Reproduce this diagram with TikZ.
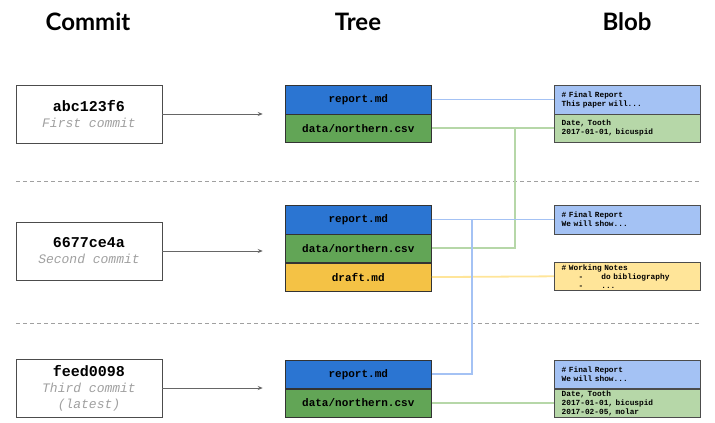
\documentclass[tikz,border=0pt]{standalone}
\usepackage{fontspec}
\setmainfont{Lato}
\setmonofont{Liberation Mono}
\usetikzlibrary{positioning,arrows.meta}
\definecolor{treeblue}{HTML}{2B75D2}
\definecolor{treegreen}{HTML}{62A556}
\definecolor{treeyellow}{HTML}{F4C245}
\definecolor{blobblue}{HTML}{A4C2F4}
\definecolor{blobgreen}{HTML}{B6D7A8}
\definecolor{blobyellow}{HTML}{FFE599}
\definecolor{subgray}{HTML}{A0A0A0}
\begin{document}
\begin{tikzpicture}[x=1pt, y=-1pt, >={Stealth[length=5pt, width=4pt]},
    header/.style={font=\bfseries\fontsize{24}{28}\selectfont, anchor=base},
    commit/.style={draw=black!70, fill=white, minimum width=146pt, minimum height=58pt, inner sep=0pt, align=center, font=\ttfamily\fontsize{13}{16}\selectfont},
    entry/.style={draw=black!80, minimum width=146.7pt, minimum height=28.4pt, inner sep=0pt, font=\ttfamily\bfseries\fontsize{11}{13}\selectfont},
    blob/.style={draw=black!70, text width=131.3pt, inner xsep=7.7pt, inner ysep=0pt, minimum height=28.4pt, align=left, font=\ttfamily\bfseries\fontsize{7.8}{9}\selectfont},
    link/.style={line width=1.8pt},
    sep/.style={subgray, line width=0.8pt, dash pattern=on 4pt off 3pt}]
  \useasboundingbox (0,0) rectangle (715,423);

  % column headers
  \node[header] (hc) at (88,30) {Commit};
  \node[header] (ht) at (358,30) {Tree};
  \node[header] (hb) at (627,30) {Blob};

  % section separators
  \draw[sep] (16,181.7) -- (700,181.7);
  \draw[sep] (16,323.3) -- (700,323.3);

  % commits
  \node[commit] (c1) at (89,114) {{\bfseries\fontsize{15}{16}\selectfont abc123f6}\\{\color{subgray}\itshape First commit}};
  \node[commit] (c2) at (89,251) {{\bfseries\fontsize{15}{16}\selectfont 6677ce4a}\\{\color{subgray}\itshape Second commit}};
  \node[commit] (c3) at (89,388) {{\bfseries\fontsize{15}{16}\selectfont feed0098}\\{\color{subgray}\itshape Third commit}\\{\color{subgray}\itshape (latest)}};

  % trees
  \node[entry, fill=treeblue] (t1r) at (358.3,99.5) {report.md};
  \node[entry, fill=treegreen, below=0pt of t1r] (t1d) {data/northern.csv};
  \node[entry, fill=treeblue] (t2r) at (358.3,219.5) {report.md};
  \node[entry, fill=treegreen, below=0pt of t2r] (t2d) {data/northern.csv};
  \node[entry, fill=treeyellow, below=0pt of t2d] (t2f) {draft.md};
  \node[entry, fill=treeblue] (t3r) at (358.3,374.2) {report.md};
  \node[entry, fill=treegreen, below=0pt of t3r] (t3d) {data/northern.csv};

  % blobs
  \node[blob, fill=blobblue] (b1r) at (627.3,99.5) {\# Final Report\\This paper will...};
  \node[blob, fill=blobgreen, below=0pt of b1r] (b1d) {Date, Tooth\\2017-01-01, bicuspid};
  \node[blob, fill=blobblue] (b2r) at (627.3,219.5) {\# Final Report\\We will show...};
  \node[blob, fill=blobyellow] (b2f) at (627.3,276.3) {\# Working Notes\\\hspace*{17pt}-\hspace*{18pt}do bibliography\\\hspace*{17pt}-\hspace*{18pt}...};
  \node[blob, fill=blobblue] (b3r) at (627.3,374.2) {\# Final Report\\We will show...};
  \node[blob, fill=blobgreen, below=0pt of b3r] (b3d) {Date, Tooth\\2017-01-01, bicuspid\\2017-02-05, molar};

  % commit -> tree
  \draw[->, black!60, line width=0.8pt, shorten >=22pt] (c1.east) -- (c1.east -| t1r.west);
  \draw[->, black!60, line width=0.8pt, shorten >=22pt] (c2.east) -- (c2.east -| t2r.west);
  \draw[->, black!60, line width=0.8pt, shorten >=22pt] (c3.east) -- (c3.east -| t3r.west);

  % tree -> blob
  \coordinate (g1) at ([xshift=83pt]t1d.east);
  \coordinate (g2) at ([xshift=40pt]t2r.east);
  \draw[link, blobgreen] (t1d.east) -- (b1d.west);
  \draw[link, blobgreen] (t2d.east) -| (g1);
  \draw[link, blobgreen] (t3d.east) -- (b3d.west);
  \draw[link, blobyellow] (t2f.east) -- (b2f.west);
  \draw[link, blobblue] (t1r.east) -- (b1r.west);
  \draw[link, blobblue] (t2r.east) -- (b2r.west);
  \draw[link, blobblue] (t3r.east) -| (g2);
\end{tikzpicture}
\end{document}
